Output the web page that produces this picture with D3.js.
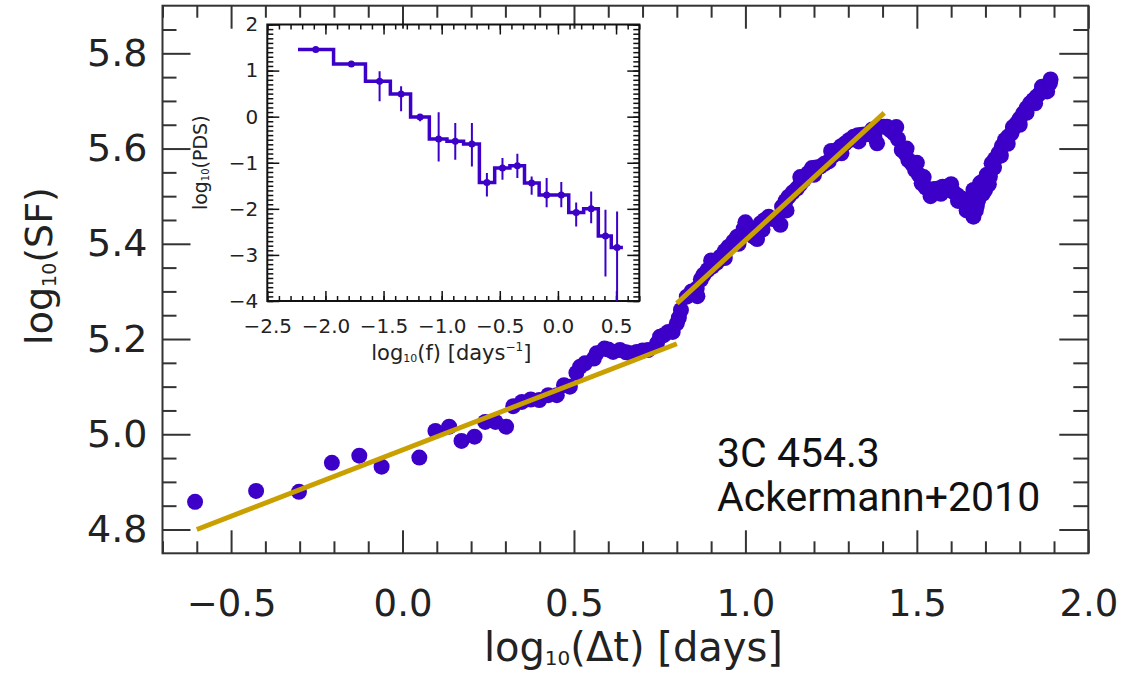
<!DOCTYPE html>
<html>
<head>
<meta charset="utf-8">
<script src="https://cdn.jsdelivr.net/npm/d3@7"></script>
<style>
  body { margin: 0; background: #fff; }
  svg text { font-family: "DejaVu Sans", sans-serif; fill: #222; }
</style>
</head>
<body>
<div id="chart"></div>
<script>
// structure function points
const sfX = [-0.605, -0.427, -0.302, -0.206, -0.126, -0.061, 0.049, 0.096, 0.136, 0.172, 0.210, 0.241,
  0.271, 0.302, 0.323, 0.348, 0.374, 0.399, 0.425, 0.450, 0.471, 0.488, 0.507, 0.518, 0.532, 0.558,
  0.566, 0.589, 0.600, 0.614, 0.634, 0.652, 0.665, 0.683, 0.700, 0.716, 0.742, 0.751, 0.762, 0.775,
  0.788, 0.800, 0.806, 0.812, 0.829, 0.843, 0.858, 0.870, 0.878, 0.890, 0.903, 0.916, 0.927, 0.940,
  0.951, 0.965, 0.976, 0.995, 1.010, 1.019, 1.024, 1.034, 1.044, 1.056, 1.068, 1.080, 1.092, 1.102,
  1.107, 1.117, 1.126, 1.138, 1.150, 1.160, 1.170, 1.182, 1.194, 1.206, 1.218, 1.230, 1.243, 1.255,
  1.267, 1.279, 1.291, 1.303, 1.316, 1.328, 1.340, 1.352, 1.364, 1.376, 1.384, 1.394, 1.404, 1.413,
  1.423, 1.433, 1.445, 1.456, 1.466, 1.475, 1.486, 1.495, 1.506, 1.514, 1.526, 1.538, 1.550, 1.563,
  1.575, 1.587, 1.597, 1.606, 1.618, 1.631, 1.641, 1.650, 1.658, 1.665, 1.672, 1.665, 1.679, 1.684,
  1.692, 1.699, 1.704, 1.713, 1.718, 1.728, 1.738, 1.748, 1.757, 1.766, 1.776, 1.784, 1.791, 1.800,
  1.810, 1.820, 1.830, 1.840, 1.849, 1.859, 1.869, 1.878, 1.888,
  // second layer of the dense band
  0.860, 0.900, 0.940, 0.980, 1.000, 1.050, 1.120, 1.160, 1.200, 1.250, 1.280, 1.330, 1.370,
  1.440, 1.470, 1.500, 1.520, 1.540, 1.570, 1.600, 1.620, 1.645, 1.660,
  1.675, 1.690, 1.710, 1.725, 1.745, 1.765, 1.780, 1.800, 1.820, 1.845, 1.865, 1.880, 1.890]
const sfY = [4.858, 4.881, 4.879, 4.940, 4.955, 4.932, 4.951, 5.007, 5.016, 4.986, 4.995, 5.026,
  5.026, 5.016, 5.059, 5.068, 5.073, 5.072, 5.082, 5.082, 5.103, 5.100, 5.129, 5.142, 5.149, 5.159,
  5.170, 5.180, 5.178, 5.173, 5.177, 5.172, 5.170, 5.173, 5.176, 5.177, 5.191, 5.205, 5.208, 5.215,
  5.215, 5.233, 5.245, 5.261, 5.289, 5.300, 5.306, 5.325, 5.335, 5.345, 5.352, 5.360, 5.373, 5.385,
  5.394, 5.405, 5.415, 5.432, 5.425, 5.429, 5.415, 5.410, 5.443, 5.450, 5.457, 5.452, 5.450, 5.440,
  5.478, 5.490, 5.499, 5.508, 5.516, 5.525, 5.534, 5.548, 5.559, 5.560, 5.562, 5.568, 5.573, 5.585,
  5.597, 5.605, 5.611, 5.618, 5.625, 5.628, 5.629, 5.630, 5.632, 5.625, 5.611, 5.646, 5.646, 5.646,
  5.638, 5.632, 5.620, 5.597, 5.590, 5.576, 5.568, 5.555, 5.545, 5.527, 5.518, 5.513, 5.515, 5.516,
  5.520, 5.520, 5.515, 5.509, 5.502, 5.495, 5.488, 5.478, 5.468, 5.457, 5.470, 5.513, 5.492, 5.527,
  5.505, 5.513, 5.545, 5.541, 5.569, 5.578, 5.590, 5.605, 5.618, 5.625, 5.632, 5.645, 5.653, 5.663,
  5.674, 5.685, 5.695, 5.702, 5.709, 5.716, 5.723, 5.730, 5.737,
  5.290, 5.365, 5.370, 5.400, 5.445, 5.430, 5.470, 5.540, 5.545, 5.595, 5.590, 5.615, 5.640,
  5.645, 5.600, 5.570, 5.540, 5.500, 5.505, 5.525, 5.490, 5.470, 5.465,
  5.480, 5.530, 5.525, 5.560, 5.585, 5.610, 5.645, 5.650, 5.675, 5.695, 5.730, 5.720, 5.745]

// the two power-law fits
const fitLowX = [-0.6, 0.8]
const fitLowY = [4.80, 5.19]
const fitHighX = [0.8, 1.405]
const fitHighY = [5.275, 5.675]

const xMajor = [-0.5, 0.0, 0.5, 1.0, 1.5, 2.0]
const yMajor = [4.8, 5.0, 5.2, 5.4, 5.6, 5.8]

// inset: power density spectrum
const pdsF = [-2.083, -1.777, -1.534, -1.349, -1.186, -1.026, -0.883, -0.740, -0.611, -0.477,
  -0.349, -0.226, -0.097, 0.029, 0.157, 0.286, 0.409, 0.509]
const pdsP = [1.457, 1.145, 0.768, 0.490, -0.007, -0.486, -0.536, -0.594, -1.430, -1.116,
  -1.065, -1.440, -1.700, -1.700, -2.080, -2.000, -2.590, -2.840]
const pdsHi = [1.49, 1.175, 0.986, 0.659, 0.043, 0.094, -0.138, -0.138, -1.225, -0.899,
  -0.804, -1.297, -1.333, -1.420, -1.862, -1.623, -2.022, -2.058]
const pdsLo = [1.43, 1.115, 0.333, 0.116, -0.101, -0.971, -0.935, -1.080, -1.732, -1.370,
  -1.333, -1.696, -1.964, -1.964, -2.384, -2.312, -3.471, -4.2]

const insetXTicks = [-2.5, -2.0, -1.5, -1.0, -0.5, 0.0, 0.5]
const insetYTicks = [-4, -3, -2, -1, 0, 1, 2]

const notes = ['3C 454.3', 'Ackermann+2010']

const purple = '#3c00c8', gold = '#c9a000', ink = '#333'
let width = 1123, height = 674

let svg = d3.select('#chart')
  .append('svg')
  .attr('width', width)
  .attr('height', height)

// ---- main panel
let x = d3.scaleLinear().domain([-0.7, 2.0]).range([162.5, 1088.3])
let y = d3.scaleLinear().domain([4.75, 5.9]).range([553.3, 5.7])
let [L, R] = x.range(), [B, T] = y.range()

let tickStyle = (g, w) => {
  g.select('.domain').remove()
  g.selectAll('line').attr('stroke', ink).attr('stroke-width', w)
}

let minorX = d3.range(-7, 21).map(d => d / 10).filter(v => !xMajor.some(m => Math.abs(m - v) < 1e-9))
let minorY = d3.range(96, 118).map(d => d / 20).filter(v => !yMajor.some(m => Math.abs(m - v) < 1e-9))

// bottom / top
svg.append('g').attr('transform', `translate(0,${B})`)
  .call(d3.axisBottom(x).tickValues(xMajor).tickSize(-23).tickPadding(36).tickFormat(d3.format('.1f')))
  .call(g => tickStyle(g, 2))
  .call(g => g.selectAll('text').attr('font-size', 37).attr('fill', '#222'))
svg.append('g').attr('transform', `translate(0,${B})`)
  .call(d3.axisBottom(x).tickValues(minorX).tickSize(-12).tickFormat(''))
  .call(g => tickStyle(g, 2))
svg.append('g').attr('transform', `translate(0,${T})`)
  .call(d3.axisTop(x).tickValues(xMajor).tickSize(-23).tickFormat(''))
  .call(g => tickStyle(g, 2))
svg.append('g').attr('transform', `translate(0,${T})`)
  .call(d3.axisTop(x).tickValues(minorX).tickSize(-12).tickFormat(''))
  .call(g => tickStyle(g, 2))

// left / right
svg.append('g').attr('transform', `translate(${L},0)`)
  .call(d3.axisLeft(y).tickValues(yMajor).tickSize(-28).tickPadding(15).tickFormat(d3.format('.1f')))
  .call(g => tickStyle(g, 2))
  .call(g => g.selectAll('text').attr('font-size', 38).attr('fill', '#222'))
svg.append('g').attr('transform', `translate(${L},0)`)
  .call(d3.axisLeft(y).tickValues(minorY).tickSize(-14).tickFormat(''))
  .call(g => tickStyle(g, 2))
svg.append('g').attr('transform', `translate(${R},0)`)
  .call(d3.axisRight(y).tickValues(yMajor).tickSize(-29).tickFormat(''))
  .call(g => tickStyle(g, 2))
svg.append('g').attr('transform', `translate(${R},0)`)
  .call(d3.axisRight(y).tickValues(minorY).tickSize(-15).tickFormat(''))
  .call(g => tickStyle(g, 2))

svg.append('rect')
  .attr('x', L).attr('y', T)
  .attr('width', R - L).attr('height', B - T)
  .attr('fill', 'none').attr('stroke', ink).attr('stroke-width', 2)

// axis titles
let xt = svg.append('text')
  .attr('x', (L + R) / 2 + 8).attr('y', 661)
  .attr('text-anchor', 'middle').attr('font-size', 40)
xt.append('tspan').text('log')
xt.append('tspan').text('10').attr('font-size', 20).attr('dy', 4)
xt.append('tspan').text('(\u0394t) [days]').attr('dy', -4)

let yt = svg.append('text')
  .attr('transform', `translate(52,${266}) rotate(-90)`)
  .attr('text-anchor', 'middle').attr('font-size', 38)
yt.append('tspan').text('log')
yt.append('tspan').text('10').attr('font-size', 19).attr('dy', 4)
yt.append('tspan').text('(SF)').attr('dy', -4)

// data
let pts = d3.zip(sfX, sfY)
svg.append('g')
  .selectAll('circle')
  .data(pts)
  .enter()
  .append('circle')
  .attr('cx', d => x(d[0]))
  .attr('cy', d => y(d[1]))
  .attr('r', 8)
  .attr('fill', purple)

let fits = [d3.zip(fitLowX, fitLowY), d3.zip(fitHighX, fitHighY)]
svg.append('g')
  .selectAll('path')
  .data(fits)
  .enter()
  .append('path')
  .attr('d', d3.line().x(d => x(d[0])).y(d => y(d[1])))
  .attr('stroke', gold)
  .attr('stroke-width', 5)
  .attr('fill', 'none')

svg.append('g')
  .selectAll('text')
  .data(notes)
  .enter()
  .append('text')
  .attr('x', 717)
  .attr('y', (d, i) => 467 + i * 44)
  .style('font-family', 'Roboto, sans-serif')
  .style('font-size', '41px')
  .style('fill', '#111')
  .text(d => d)

// ---- inset
let ix = d3.scaleLinear().domain([-2.5, 0.7]).range([267.3, 639.3])
let iy = d3.scaleLinear().domain([-4, 2]).range([301, 24.5])
let [iL, iR] = ix.range(), [iB, iT] = iy.range()
let inset = svg.append('g')

let iMinorX = d3.range(-25, 8).map(d => d / 10)
let iMinorY = d3.range(-40, 21).map(d => d / 10)

let insetAxis = (axis, pos, vals, size, fmt, pad) => {
  let g = inset.append('g').attr('transform', pos)
    .call(axis.tickValues(vals).tickSize(size).tickPadding(pad || 3).tickFormat(fmt || ''))
  tickStyle(g, 1.5)
  g.selectAll('line').attr('stroke', '#111')
  g.selectAll('text').attr('font-size', 20).attr('fill', '#222')
}
insetAxis(d3.axisBottom(ix), `translate(0,${iB})`, insetXTicks, -10, d3.format('.1f'), 18)
insetAxis(d3.axisBottom(ix), `translate(0,${iB})`, iMinorX, -5)
insetAxis(d3.axisTop(ix), `translate(0,${iT})`, insetXTicks, -10)
insetAxis(d3.axisTop(ix), `translate(0,${iT})`, iMinorX, -5)
insetAxis(d3.axisLeft(iy), `translate(${iL},0)`, insetYTicks, -12, d3.format('d'), 9)
insetAxis(d3.axisLeft(iy), `translate(${iL},0)`, iMinorY, -6)
insetAxis(d3.axisRight(iy), `translate(${iR},0)`, insetYTicks, -12)
insetAxis(d3.axisRight(iy), `translate(${iR},0)`, iMinorY, -6)

inset.append('rect')
  .attr('x', iL).attr('y', iT)
  .attr('width', iR - iL).attr('height', iB - iT)
  .attr('fill', 'none').attr('stroke', '#111').attr('stroke-width', 2)

svg.append('clipPath').attr('id', 'insetClip')
  .append('rect')
  .attr('x', iL).attr('y', iT)
  .attr('width', iR - iL).attr('height', iB - iT)

let plotArea = inset.append('g').attr('clip-path', 'url(#insetClip)')

// histogram steps, edges half way between the bins
let n = pdsF.length
let steps = d3.zip(pdsF, pdsP)
steps.unshift([pdsF[0] - (pdsF[1] - pdsF[0]) / 2, pdsP[0]])
steps.push([pdsF[n - 1] + (pdsF[n - 1] - pdsF[n - 2]) / 2, pdsP[n - 1]])
plotArea.append('path')
  .attr('d', d3.line().curve(d3.curveStep).x(d => ix(d[0])).y(d => iy(d[1]))(steps))
  .attr('stroke', purple)
  .attr('stroke-width', 3.5)
  .attr('fill', 'none')

let bins = d3.range(n).map(i => ({ f: pdsF[i], p: pdsP[i], lo: pdsLo[i], hi: pdsHi[i] }))
plotArea.append('g')
  .selectAll('line')
  .data(bins)
  .enter()
  .append('line')
  .attr('x1', d => ix(d.f)).attr('x2', d => ix(d.f))
  .attr('y1', d => iy(d.lo)).attr('y2', d => iy(d.hi))
  .attr('stroke', purple)
  .attr('stroke-width', 2)
plotArea.append('g')
  .selectAll('circle')
  .data(bins)
  .enter()
  .append('circle')
  .attr('cx', d => ix(d.f))
  .attr('cy', d => iy(d.p))
  .attr('r', 3.5)
  .attr('fill', purple)

let ixt = inset.append('text')
  .attr('x', (iL + iR) / 2 - 2).attr('y', 360)
  .attr('text-anchor', 'middle').attr('font-size', 21)
ixt.append('tspan').text('log')
ixt.append('tspan').text('10').attr('font-size', 11).attr('dy', 2)
ixt.append('tspan').text('(f) [days').attr('dy', -2)
ixt.append('tspan').text('\u22121').attr('font-size', 12).attr('dy', -9)
ixt.append('tspan').text(']').attr('dy', 9)

let iyt = inset.append('text')
  .attr('transform', `translate(207,${(iT + iB) / 2}) rotate(-90)`)
  .attr('text-anchor', 'middle').attr('font-size', 19)
iyt.append('tspan').text('log')
iyt.append('tspan').text('10').attr('font-size', 10).attr('dy', 2)
iyt.append('tspan').text('(PDS)').attr('dy', -2)
</script>
</body>
</html>
